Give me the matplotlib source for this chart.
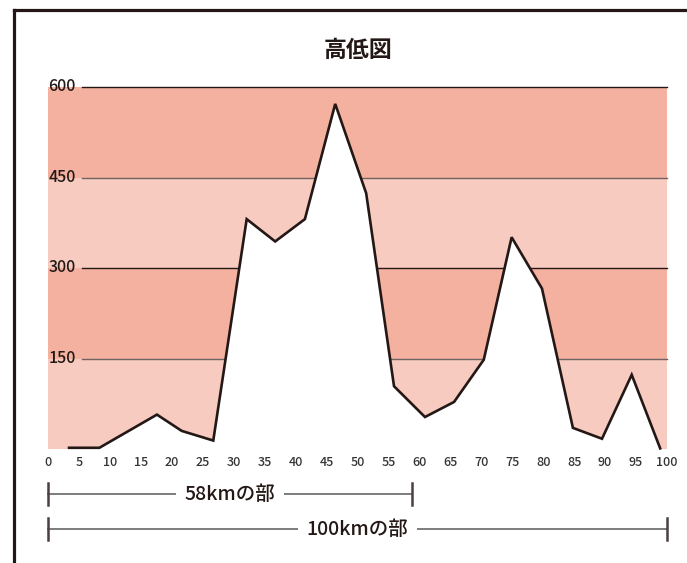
import matplotlib
matplotlib.use("Agg")
import matplotlib.pyplot as plt
from matplotlib.transforms import blended_transform_factory
from matplotlib.lines import Line2D

plt.rcParams['font.family'] = ['Noto Sans CJK JP', 'DejaVu Sans']

# ---- data ----
title = "高低図"
dist_km = [3.4, 8.3, 17.6, 21.6, 26.7, 32.1, 36.7, 41.5, 46.4, 51.4,
           55.9, 60.9, 65.6, 70.4, 74.9, 79.8, 84.8, 89.5, 94.3, 98.9]
elev_m = [2, 2, 57, 30, 14, 381, 344, 381, 572, 424,
          104, 53, 78, 148, 351, 266, 35, 17, 123, 1]
x_ticks = list(range(0, 101, 5))
y_ticks = [150, 300, 450, 600]
band_edges = [0, 150, 300, 450, 600]
course_labels = ["58kmの部", "100kmの部"]
course_ends = [58.8, 100]

dark = "#231815"
band_colors = ["#f8cbc1", "#f4b1a0", "#f8cbc1", "#f4b1a0"]
grid_colors = ["#6e6360", dark, "#6e6360", dark]

fig = plt.figure(figsize=(6.87, 5.63), dpi=100)
ax = fig.add_axes([48/687, 114/563, 619/687, 362/563])
ax.set_xlim(0, 100)
ax.set_ylim(0, 600)
for s in ax.spines.values():
    s.set_visible(False)

for i in range(len(band_edges) - 1):
    ax.axhspan(band_edges[i], band_edges[i+1], color=band_colors[i], lw=0, zorder=0)

for yv, gc in zip(y_ticks, grid_colors):
    ax.axhline(yv, xmin=0.055, xmax=1.0, color=gc, lw=1.0, zorder=1, clip_on=False)
    ax.text(0.1, yv, str(yv), ha='left', va='center', fontsize=11.5, fontweight='medium',
            color=dark, zorder=3, clip_on=False)

ax.axhline(0, color="#e39a8a", lw=0.8, zorder=1)

ax.fill_between(dist_km, elev_m, 0, color="white", lw=0, zorder=2)
ax.plot(dist_km, elev_m, color=dark, lw=1.9, zorder=4, solid_joinstyle='miter', clip_on=False)

ax.set_xticks(x_ticks)
ax.set_xticklabels([str(v) for v in x_ticks], fontweight='medium')
ax.set_yticks([])
ax.tick_params(axis='x', length=0, pad=5, labelsize=9, labelcolor="#333333")

ax.text(0.5, 1 - 50/563, title, transform=ax.transAxes, ha='center', va='center',
        fontsize=16.5, fontweight='bold', color=dark)
ax.texts[-1].set_transform(blended_transform_factory(ax.transAxes, fig.transFigure))

# course range bars
tr = blended_transform_factory(ax.transData, fig.transFigure)
ys = [(563-494)/563, (563-529)/563]
cap = 11/563
for lab, end, yy in zip(course_labels, course_ends, ys):
    ax.plot([0, end], [yy, yy], color="#666666", lw=1.2, transform=tr, clip_on=False, zorder=5)
    for xe in (0, end):
        ax.plot([xe, xe], [yy - cap, yy + cap], color="#4a4040", lw=1.8,
                transform=tr, clip_on=False, zorder=5)
    ax.text(end/2, yy, lab, transform=tr, ha='center', va='center', fontsize=14,
            fontweight='medium', color=dark, zorder=6,
            bbox=dict(boxstyle='square,pad=0.45', fc='white', ec='none'))

# frame
fig.add_artist(Line2D([14/687, 14/687], [0, 1 - 10/563], color=dark, lw=2.3,
                      transform=fig.transFigure))
fig.add_artist(Line2D([14/687, 1.0], [1 - 10/563, 1 - 10/563], color=dark, lw=2.3,
                      transform=fig.transFigure, solid_capstyle='projecting'))

fig.savefig("out.png", dpi=100)
